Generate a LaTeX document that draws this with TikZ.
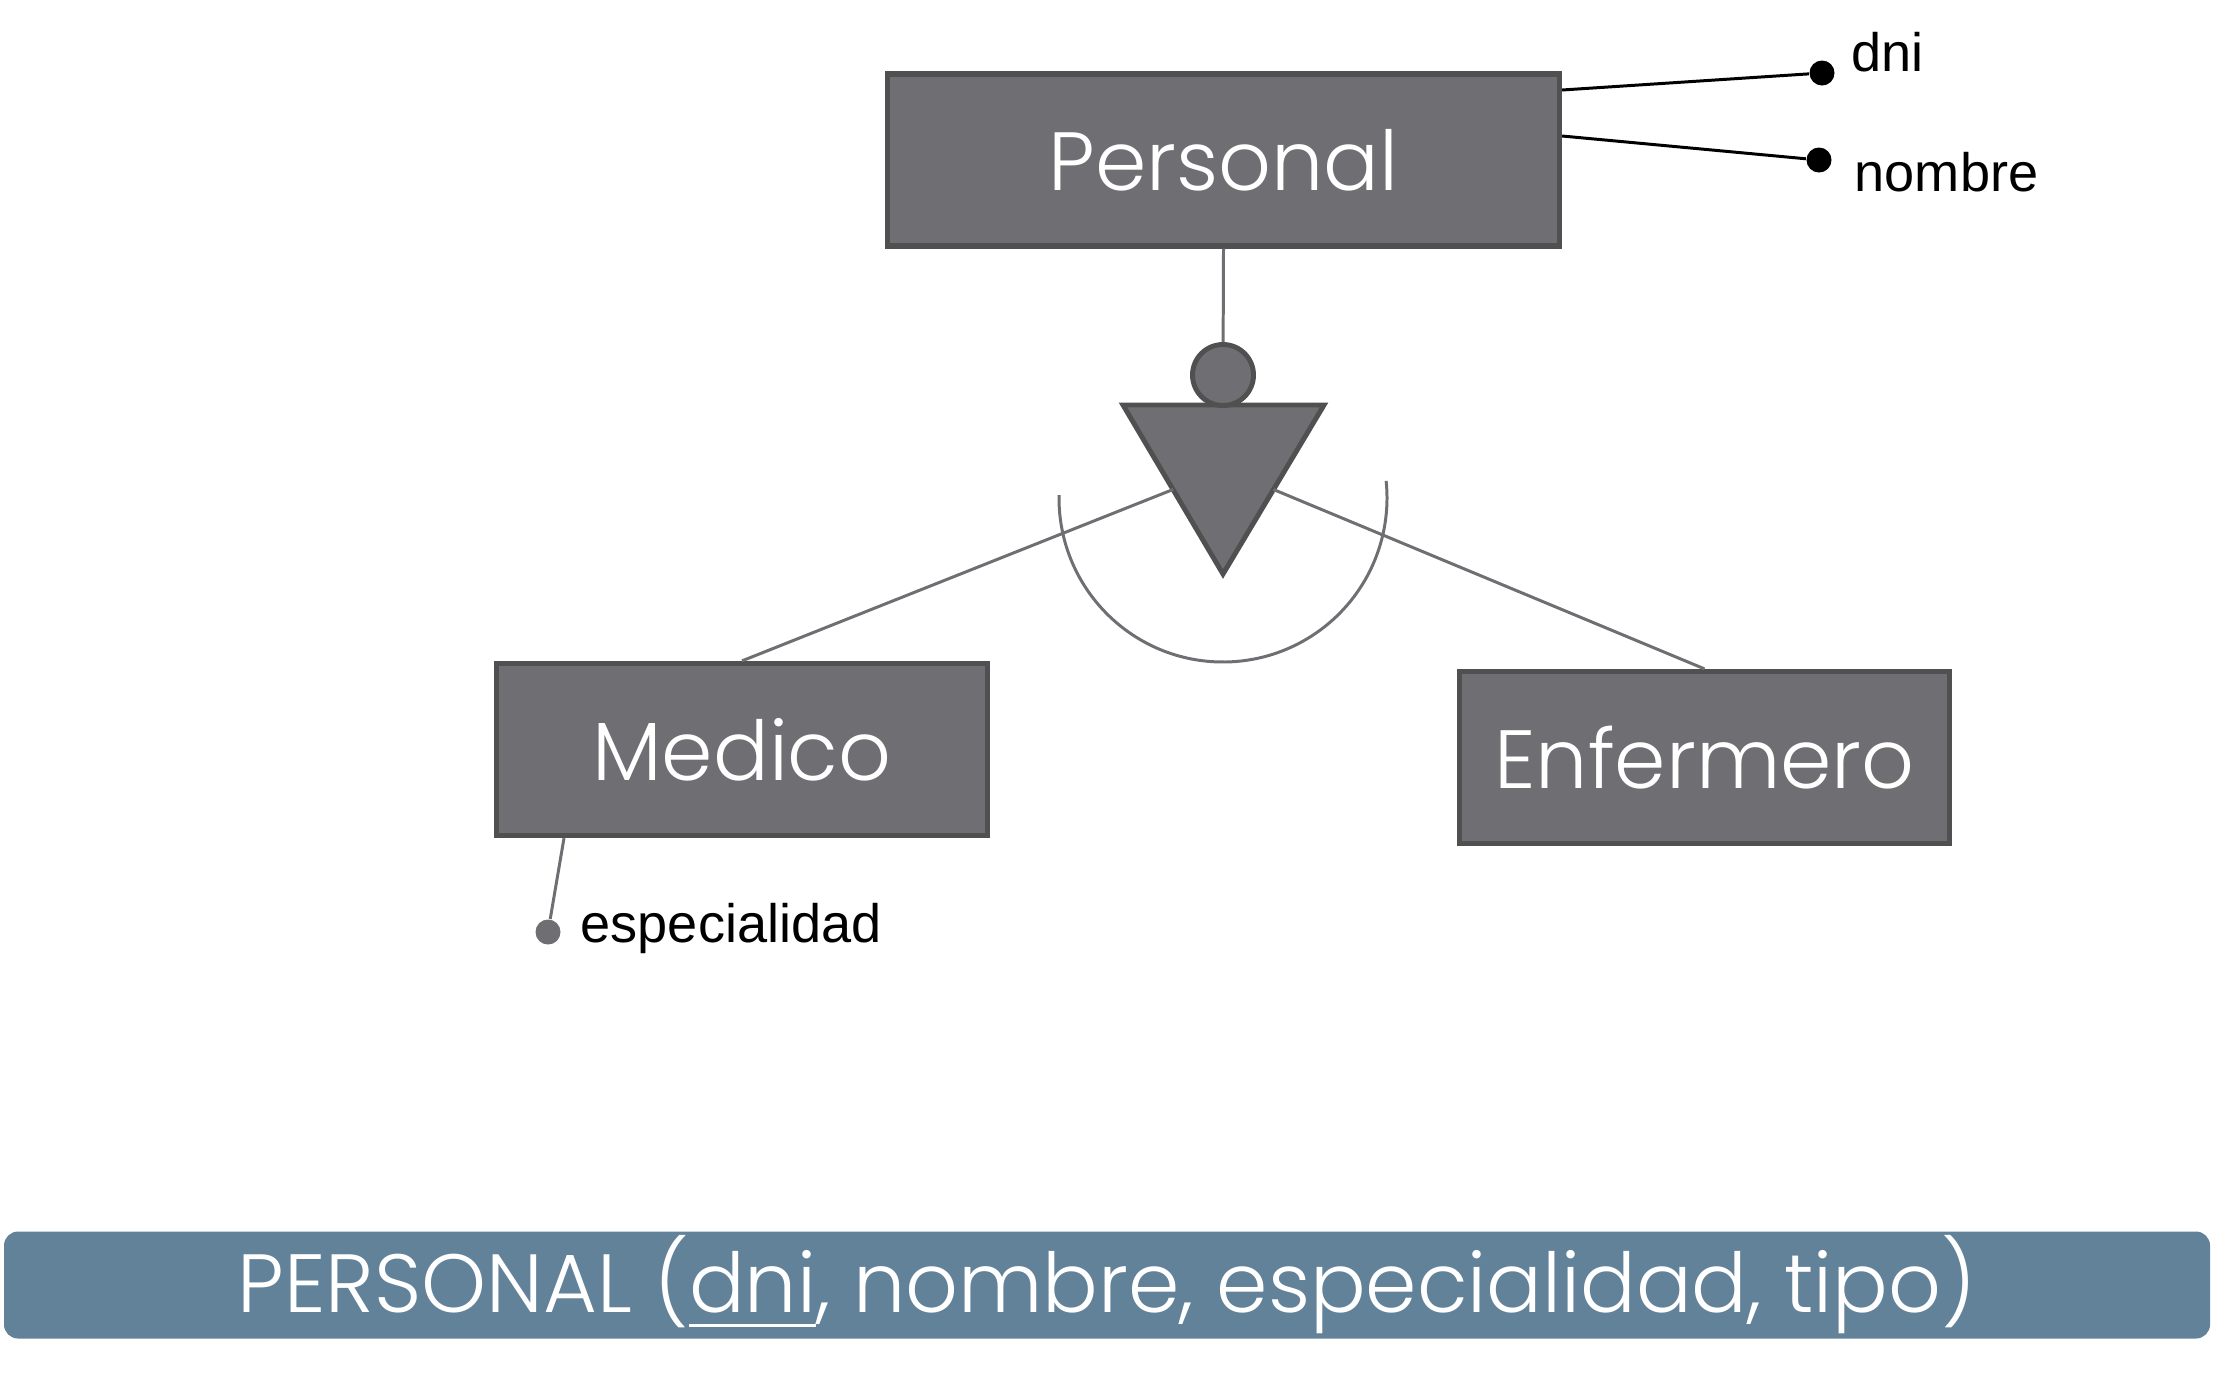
\documentclass[tikz,border=0pt]{standalone}
\usepackage{fontspec}
\setmainfont{Liberation Sans}
\newfontfamily\gothic{Poppins Light}
\usetikzlibrary{calc}

\definecolor{boxgray}{HTML}{6F6E73}
\definecolor{boxedge}{HTML}{505050}
\definecolor{bannerblue}{HTML}{62829A}

\newcommand{\pkey}[1]{\vtop{\hbox{#1}\kern3pt\hrule height 0.9pt}}

\tikzset{
    entity/.style={draw=boxedge, fill=boxgray, line width=1.5pt,
        minimum width=#1, minimum height=1.72cm, inner sep=0pt,
        text=white, font=\gothic\fontsize{23.5}{28}\selectfont},
    symbol/.style={draw=boxedge, fill=boxgray, line width=1.4pt},
    link/.style={draw=boxgray, line width=0.85pt},
    attrline/.style={draw=black, line width=0.85pt},
    attrdot/.style={circle, fill=#1, minimum size=0.25cm, inner sep=0pt},
    attrtext/.style={anchor=west, inner sep=0pt, font=\fontsize{15.4}{18}\selectfont},
    banner/.style={fill=bannerblue, rounded corners=0.14cm,
        minimum width=22.06cm, minimum height=1.07cm, inner sep=0pt,
        text=white, font=\gothic\fontsize{23.5}{28}\selectfont}
}

\begin{document}
\begin{tikzpicture}
    \useasboundingbox (0,0) rectangle (22.14,-13.82);

    % Entities
    \node[entity=6.72cm] (personal) at (12.235,-1.60) {Personal};
    \node[entity=4.91cm] (medico) at (7.42,-7.495) {Medico};
    \node[entity=4.90cm] (enfermero) at (17.045,-7.575) {Enfermero};

    % Generalisation: triangle, hub and arc
    \coordinate (gtl) at (11.23,-4.05);
    \coordinate (gtr) at (13.24,-4.05);
    \coordinate (gbot) at (12.23,-5.74);
    \coordinate (arcc) at (12.23,-4.98);
    \filldraw[symbol] (gtl) -- (gtr) -- (gbot) -- cycle;
    \node[symbol, circle, minimum size=0.61cm, inner sep=0pt] (hub) at (12.23,-3.75) {};
    \draw[link] (personal.south) -- (hub);
    \draw[link] ($(arcc)+(179:1.64)$) arc[start angle=179, end angle=366, radius=1.64];
    \draw[link] (medico.north) -- ($(gtl)!0.5!(gbot)$);
    \draw[link] (enfermero.north) -- ($(gtr)!0.5!(gbot)$);

    % Attributes
    \node[attrdot=black] (dnidot) at (18.22,-0.73) {};
    \node[attrdot=black] (nombredot) at (18.19,-1.60) {};
    \node[attrdot=boxgray] (espdot) at (5.48,-9.32) {};
    \draw[attrline] ([yshift=0.70cm]personal.east) -- (dnidot);
    \draw[attrline] ([yshift=0.24cm]personal.east) -- (nombredot);
    \draw[link] ([xshift=-1.78cm]medico.south) -- (espdot);
    \node[attrtext] (dni) at (18.51,-0.52) {dni};
    \node[attrtext] (nombre) at (18.54,-1.72) {nombre};
    \node[attrtext] (especialidad) at (5.80,-9.28) {especialidad};

    % Relation
    \node[banner] (relation) at (11.07,-12.85)
        {PERSONAL (\pkey{dni}, nombre, especialidad, tipo)};
\end{tikzpicture}
\end{document}
